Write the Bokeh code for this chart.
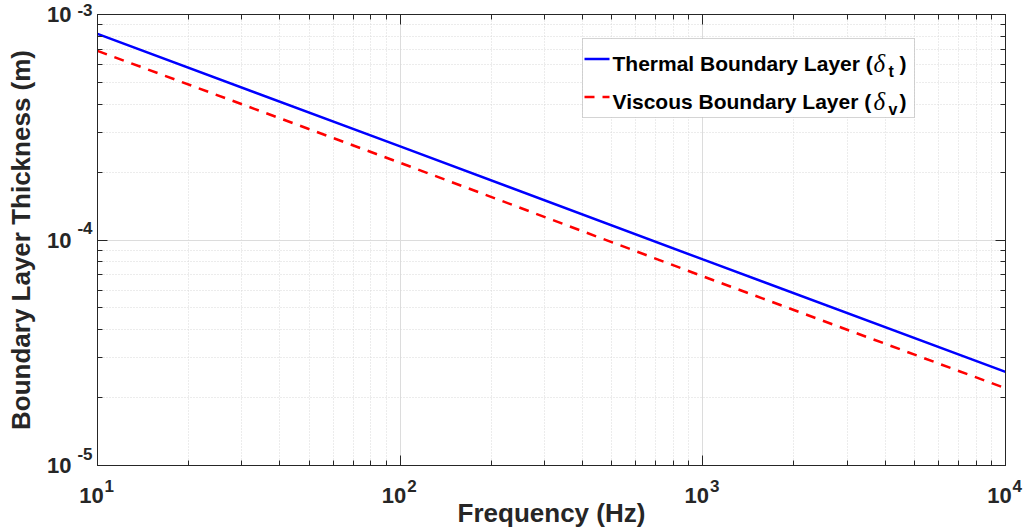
import math
from bokeh.plotting import figure
from bokeh.models import FixedTicker, LogAxis, Label, BoxAnnotation
from bokeh.embed import file_html
from bokeh.resources import INLINE

# ---------------- data ----------------
freq = [10, 100, 1000, 10000]
thermal = [8.2e-4, 2.6e-4, 8.2e-5, 2.6e-5]
viscous = [6.9e-4, 2.2e-4, 6.9e-5, 2.2e-5]

x_ticks = [10, 100, 1000, 10000]
x_exps = ["1", "2", "3", "4"]
y_ticks = [1e-5, 1e-4, 1e-3]
y_exps = ["-5", "-4", "-3"]
x_minor = [m * 10 ** e for e in (1, 2, 3) for m in range(2, 10)]
y_minor = [m * 10.0 ** e for e in (-5, -4) for m in range(2, 10)]

x_title = "Frequency (Hz)"
y_title = "Boundary Layer Thickness (m)"
leg_main = ["Thermal Boundary Layer (", "Viscous Boundary Layer ("]
leg_sub = ["t", "v"]

# ---------------- layout ----------------
W, H = 1030, 531
L, R, T, B = 97, 1005, 14, 465
TXT = "#262626"
FONT = "Liberation Sans"
NB = "\u00a0"

p = figure(width=W, height=H, x_axis_type="log", y_axis_type="log",
           x_range=(10, 1e4), y_range=(1e-5, 1e-3),
           output_backend="svg", toolbar_location=None,
           min_border_left=L, min_border_right=W - R,
           min_border_top=T, min_border_bottom=H - B)
p.background_fill_color = "white"
p.border_fill_color = "white"
p.outline_line_color = TXT
p.outline_line_width = 1

xt = FixedTicker(ticks=x_ticks, minor_ticks=x_minor)
yt = FixedTicker(ticks=y_ticks, minor_ticks=y_minor)

def style_ticks(ax):
    ax.axis_line_color = TXT
    ax.major_tick_line_color = TXT
    ax.minor_tick_line_color = TXT
    ax.major_tick_in = 10
    ax.major_tick_out = 0
    ax.minor_tick_in = 5
    ax.minor_tick_out = 0

def hide_labels(ax):
    ax.major_label_text_font_size = "1px"
    ax.major_label_text_color = None
    ax.major_label_standoff = 0

def style_text(ax, size):
    ax.major_label_text_font = FONT
    ax.major_label_text_font_style = "bold"
    ax.major_label_text_font_size = size
    ax.major_label_text_color = TXT

def hide_line(ax):
    ax.axis_line_color = None
    ax.major_tick_line_color = None
    ax.minor_tick_line_color = None

def title_style(ax, text, standoff):
    ax.axis_label = text
    ax.axis_label_text_font = FONT
    ax.axis_label_text_font_style = "bold"
    ax.axis_label_text_font_size = "26px"
    ax.axis_label_text_color = TXT
    ax.axis_label_standoff = standoff

# bottom: exponent axis (with ticks) + base "10" axis + title
xa = p.xaxis[0]
xa.ticker = xt
style_ticks(xa)
style_text(xa, "17px")
xa.major_label_overrides = {t: NB * 5 + e for t, e in zip(x_ticks, x_exps)}
xa.major_label_standoff = 11

xb = LogAxis(ticker=FixedTicker(ticks=x_ticks, minor_ticks=[]))
style_text(xb, "22px")
xb.major_label_overrides = {t: "10" + NB * 2 for t in x_ticks}
xb.major_label_standoff = -22
hide_line(xb)
title_style(xb, x_title, -13)
p.add_layout(xb, "below")

# left: exponent axis (with ticks) + base "10" axis + title
ya = p.yaxis[0]
ya.ticker = yt
style_ticks(ya)
style_text(ya, "17px")
ya.major_label_overrides = {t: e + "\n" + NB for t, e in zip(y_ticks, y_exps)}
ya.major_label_standoff = 5

yb = LogAxis(ticker=FixedTicker(ticks=y_ticks, minor_ticks=[]))
style_text(yb, "22px")
yb.major_label_overrides = {t: "10" for t in y_ticks}
yb.major_label_standoff = -3
hide_line(yb)
title_style(yb, y_title, 8)
p.add_layout(yb, "left")

# box axes (ticks only)
top_ax = LogAxis(ticker=FixedTicker(ticks=x_ticks, minor_ticks=x_minor))
right_ax = LogAxis(ticker=FixedTicker(ticks=y_ticks, minor_ticks=y_minor))
for ax in (top_ax, right_ax):
    style_ticks(ax)
    hide_labels(ax)
p.add_layout(top_ax, "above")
p.add_layout(right_ax, "right")

for g in (p.xgrid, p.ygrid):
    g.grid_line_color = "#dcdcdc"
    g.grid_line_width = 1
    g.minor_grid_line_color = "#d8d8d8"
    g.minor_grid_line_dash = "1 2"
    g.minor_grid_line_width = 1
p.xgrid.ticker = xt
p.ygrid.ticker = yt

# ---------------- data lines ----------------
p.line(freq, thermal, line_color="#0000ff", line_width=2.5)
p.line(freq, viscous, line_color="#ff0000", line_width=2.5, line_dash="10 8")

# ---------------- legend ----------------
def px2x(px):
    return 10 ** (1 + (px - L) / (R - L) * 3)

def px2y(py):
    return 10 ** (-5 + (B - py) / (B - T) * 2)

p.add_layout(BoxAnnotation(left=px2x(582), right=px2x(914), top=px2y(38), bottom=px2y(117),
                           fill_color="white", fill_alpha=1.0, line_color="#707070",
                           line_width=1))
rows = [(58.5, 63, "#0000ff", "solid"), (96.5, 101, "#ff0000", "10 8")]
for (ly, base, col, dash), main, sub in zip(rows, leg_main, leg_sub):
    p.line([px2x(584), px2x(609)], [px2y(ly), px2y(ly)], line_color=col, line_width=2.5,
           line_dash=dash, level="overlay")
    p.add_layout(Label(x=px2x(612), y=px2y(base), text=main, text_align="left",
                       text_baseline="alphabetic", text_font=FONT, text_font_style="bold",
                       text_font_size="21px", text_color="black"))
    p.add_layout(Label(x=px2x(873), y=px2y(base), text="δ", text_align="left",
                       text_baseline="alphabetic", text_font="Liberation Serif",
                       text_font_style="italic", text_font_size="25px", text_color="black"))
    p.add_layout(Label(x=px2x(888), y=px2y(base + 8), text=sub, text_align="left",
                       text_baseline="alphabetic", text_font=FONT, text_font_style="bold",
                       text_font_size="16px", text_color="black"))
    p.add_layout(Label(x=px2x(899), y=px2y(base), text=")", text_align="left",
                       text_baseline="alphabetic", text_font=FONT, text_font_style="bold",
                       text_font_size="21px", text_color="black"))

open("out.html", "w").write(file_html(p, INLINE))
